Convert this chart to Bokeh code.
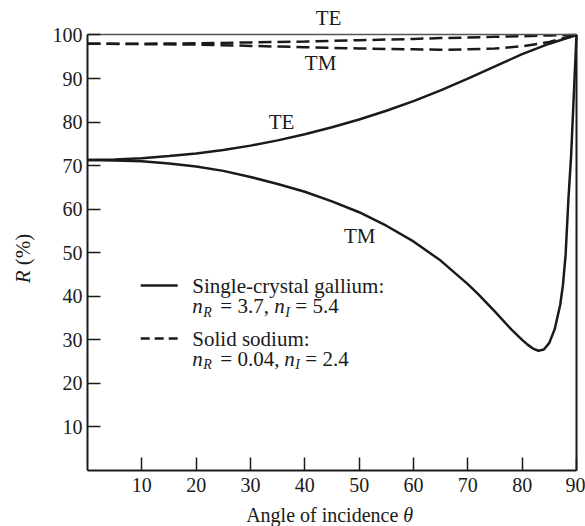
from bokeh.plotting import figure
from bokeh.models import Label, FixedTicker, Range1d, LinearAxis
from bokeh.embed import file_html
from bokeh.resources import INLINE
import math

FONT = "Liberation Serif"
INK = "#1a1a1a"

# ---- data ----
theta_ga_te = [0, 5, 10, 15, 20, 25, 30, 35, 40, 45, 50, 55, 60, 65, 70, 75, 80, 85, 90]
R_ga_te = [71.3, 71.4, 71.7, 72.2, 72.8, 73.6, 74.6, 75.8, 77.2, 78.8, 80.6, 82.6,
           84.8, 87.3, 90.0, 92.8, 95.6, 98.0, 100.0]

theta_ga_tm = [0, 5, 10, 15, 20, 25, 30, 35, 40, 45, 50, 55, 60, 65, 70, 72, 75, 78,
               80, 81, 82, 83, 84, 85, 86, 87, 87.5, 88, 88.5, 89, 89.5, 90]
R_ga_tm = [71.3, 71.2, 71.0, 70.5, 69.8, 68.8, 67.4, 65.8, 64.0, 61.8, 59.3, 56.2,
           52.6, 48.2, 42.8, 40.4, 36.5, 32.4, 30.0, 28.9, 28.0, 27.5, 27.8, 29.3,
           32.5, 38.0, 42.5, 49.5, 62.0, 72.0, 86.0, 100.0]

theta_na = [0, 10, 20, 30, 40, 50, 60, 65, 70, 75, 80, 85, 90]
R_na_te = [98.0, 98.0, 98.1, 98.3, 98.5, 98.8, 99.1, 99.3, 99.4, 99.6, 99.7, 99.9, 100.0]
R_na_tm = [98.0, 97.9, 97.8, 97.5, 97.2, 96.9, 96.7, 96.6, 96.7, 96.9, 97.4, 98.4, 100.0]

x_ticks = [10, 20, 30, 40, 50, 60, 70, 80, 90]
y_ticks = [10, 20, 30, 40, 50, 60, 70, 80, 90, 100]

# frame fills the canvas; axes are drawn at fixed data positions inside it
p = figure(width=585, height=526, x_range=Range1d(-16.01, 91.66),
           y_range=Range1d(-12.86, 107.92),
           output_backend="svg", toolbar_location=None, min_border=0,
           x_axis_location=None, y_axis_location=None)
p.grid.visible = False
p.outline_line_color = None
p.background_fill_color = "white"
p.border_fill_color = "white"


def style_axis(ax):
    ax.major_tick_in = 13
    ax.major_tick_out = 0
    ax.minor_tick_line_color = None
    ax.axis_line_width = 2
    ax.axis_line_color = INK
    ax.major_tick_line_width = 1.5
    ax.major_tick_line_color = INK
    ax.major_label_text_font = FONT
    ax.major_label_text_font_size = "20px"
    ax.major_label_text_color = INK


xax = LinearAxis(fixed_location=0, bounds=(0, 90), ticker=FixedTicker(ticks=x_ticks))
style_axis(xax)
xax.major_label_standoff = 8
p.add_layout(xax, "below")

yax = LinearAxis(fixed_location=0, bounds=(0, 100), ticker=FixedTicker(ticks=y_ticks))
style_axis(yax)
yax.major_label_standoff = 5
p.add_layout(yax, "left")

# top and right frame lines
tax = LinearAxis(fixed_location=100, bounds=(0, 90), ticker=FixedTicker(ticks=[]),
                 major_label_text_font_size="0px")
tax.axis_line_color = "#555555"
tax.axis_line_width = 1.5
tax.minor_tick_line_color = None
tax.major_tick_line_color = None
p.add_layout(tax, "above")

rax = LinearAxis(fixed_location=90, bounds=(0, 100), ticker=FixedTicker(ticks=[]),
                 major_label_text_font_size="0px")
rax.axis_line_color = INK
rax.axis_line_width = 2
rax.minor_tick_line_color = None
rax.major_tick_line_color = None
p.add_layout(rax, "right")

# curves
p.line(theta_ga_te, R_ga_te, line_color=INK, line_width=2.5)
p.line(theta_ga_tm, R_ga_tm, line_color=INK, line_width=2.5)
p.line(theta_na, R_na_te, line_color=INK, line_width=2.5, line_dash="13 6")
p.line(theta_na, R_na_tm, line_color=INK, line_width=2.5, line_dash="13 6")


def lab(x, y, text, size="21px", style="normal", align="left", dx=0, dy=0, angle=0):
    p.add_layout(Label(x=x, y=y, text=text, text_font=FONT, text_font_size=size,
                       text_font_style=style, text_align=align, text_baseline="middle",
                       text_color=INK, x_offset=dx, y_offset=dy, angle=angle))


# curve labels
lab(44.36, 104.0, "TE", align="center")
lab(42.9, 93.6, "TM", align="center")
lab(35.7, 80.0, "TE", align="center")
lab(50.1, 53.8, "TM", align="center")

# legend samples
p.line([9.8, 16.6], [42.5, 42.5], line_color=INK, line_width=2.5)
p.line([9.8, 16.6], [30.3, 30.3], line_color=INK, line_width=2.5, line_dash="9 5")

lx = 19.3
lab(lx, 42.3, "Single-crystal gallium:")
lab(lx, 37.7, "n", style="italic")
lab(lx, 37.7, "R", size="14px", style="italic", dx=11, dy=-6)
lab(lx, 37.7, "= 3.7,", dx=28)
lab(lx, 37.7, "n", style="italic", dx=82)
lab(lx, 37.7, "I", size="14px", style="italic", dx=93, dy=-6)
lab(lx, 37.7, "= 5.4", dx=103)

lab(lx, 30.1, "Solid sodium:")
lab(lx, 25.7, "n", style="italic")
lab(lx, 25.7, "R", size="14px", style="italic", dx=11, dy=-6)
lab(lx, 25.7, "= 0.04,", dx=28)
lab(lx, 25.7, "n", style="italic", dx=92)
lab(lx, 25.7, "I", size="14px", style="italic", dx=103, dy=-6)
lab(lx, 25.7, "= 2.4", dx=113)

# axis titles
lab(29.2, -10.33, "Angle of incidence", size="20px")
lab(29.2, -10.33, "θ", size="20px", style="italic", dx=157)
lab(-11.96, 43.0, "R", size="21px", style="italic", angle=math.pi / 2)
lab(-11.96, 43.0, "(%)", size="21px", dy=18, angle=math.pi / 2)

open("out.html", "w").write(file_html(p, INLINE))
